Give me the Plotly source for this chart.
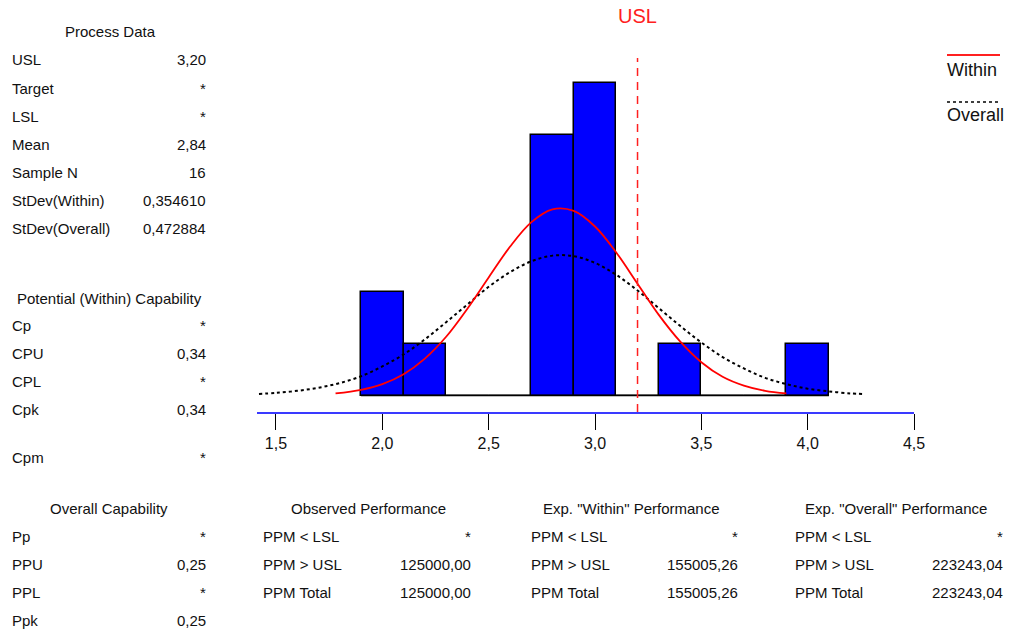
import plotly.graph_objects as go

# ---------------- data ----------------
bin_centers = [2.0, 2.2, 2.4, 2.6, 2.8, 3.0, 3.2, 3.4, 3.6, 3.8, 4.0]
bin_counts = [2, 1, 0, 0, 5, 6, 0, 1, 0, 0, 1]
bin_width = 0.2

usl = 3.2

within_x = [1.78, 1.9, 2.0, 2.1, 2.2, 2.3, 2.4, 2.5, 2.6, 2.7, 2.8, 2.9, 3.0,
            3.1, 3.2, 3.3, 3.4, 3.5, 3.6, 3.7, 3.8, 3.9]
within_y = [0.04, 0.11, 0.22, 0.41, 0.71, 1.13, 1.67, 2.27, 2.86, 3.33, 3.58,
            3.55, 3.25, 2.75, 2.15, 1.55, 1.04, 0.64, 0.36, 0.19, 0.09, 0.04]

overall_x = [1.42, 1.5, 1.6, 1.7, 1.8, 1.9, 2.0, 2.1, 2.2, 2.3, 2.4, 2.5, 2.6,
             2.7, 2.8, 2.9, 3.0, 3.1, 3.2, 3.3, 3.4, 3.5, 3.6, 3.7, 3.8, 3.9,
             4.0, 4.1, 4.2, 4.26]
overall_y = [0.03, 0.05, 0.09, 0.15, 0.24, 0.37, 0.56, 0.79, 1.08, 1.41, 1.75,
             2.09, 2.37, 2.58, 2.69, 2.68, 2.55, 2.32, 2.02, 1.68, 1.34, 1.02,
             0.74, 0.52, 0.34, 0.22, 0.13, 0.08, 0.04, 0.03]

tick_vals = [1.5, 2.0, 2.5, 3.0, 3.5, 4.0, 4.5]

process_title = "Process Data"
process_labels = ["USL", "Target", "LSL", "Mean", "Sample N", "StDev(Within)", "StDev(Overall)"]
process_values = ["3,20", "*", "*", "2,84", "16", "0,354610", "0,472884"]

potential_title = "Potential (Within) Capability"
potential_labels = ["Cp", "CPU", "CPL", "Cpk", "Cpm"]
potential_values = ["*", "0,34", "*", "0,34", "*"]

overall_title = "Overall Capability"
overall_labels = ["Pp", "PPU", "PPL", "Ppk"]
overall_values = ["*", "0,25", "*", "0,25"]

ppm_labels = ["PPM < LSL", "PPM > USL", "PPM Total"]
observed_title = "Observed Performance"
observed_values = ["*", "125000,00", "125000,00"]
expw_title = 'Exp. "Within" Performance'
expw_values = ["*", "155005,26", "155005,26"]
expo_title = 'Exp. "Overall" Performance'
expo_values = ["*", "223243,04", "223243,04"]

# ---------------- layout geometry (pixels) ----------------
W, H = 1010, 632
PL, PR, PT, PB = 257, 914, 58, 412


def px(x):
    return (x - PL) / (PR - PL)


def py(y):
    return (PB - y) / (PB - PT)


FONT = "Liberation Sans, Arial, sans-serif"
TXT = "#111111"

fig = go.Figure()

# baseline of histogram outline
fig.add_trace(go.Scatter(
    x=[bin_centers[0] - bin_width / 2, bin_centers[-1] + bin_width / 2],
    y=[0, 0], mode="lines", line=dict(color="black", width=1.5),
    hoverinfo="skip", showlegend=False))

fig.add_trace(go.Bar(
    x=bin_centers, y=bin_counts, width=bin_width,
    marker=dict(color="#0000ff", line=dict(color="black", width=1.5)),
    showlegend=False))

fig.add_trace(go.Scatter(
    x=overall_x, y=overall_y, mode="lines", line_shape="spline",
    line=dict(color="black", width=2, dash="3px,3px"), showlegend=False))

fig.add_trace(go.Scatter(
    x=within_x, y=within_y, mode="lines", line_shape="spline",
    line=dict(color="#ff0000", width=1.8), showlegend=False))

annotations = []
shapes = []

# USL line and label
shapes.append(dict(type="line", xref="x", yref="paper", x0=usl, x1=usl, y0=0, y1=1,
                   line=dict(color="#ff2020", width=1.5, dash="8px,6px")))
annotations.append(dict(x=usl, xref="x", y=py(16), yref="paper", text="USL",
                        showarrow=False, xanchor="center", yanchor="middle",
                        font=dict(family=FONT, size=20, color="#ff2020")))

# legend
shapes.append(dict(type="line", xref="paper", yref="paper", x0=px(947), x1=px(1000),
                   y0=py(55), y1=py(55), line=dict(color="#ff2020", width=2)))
shapes.append(dict(type="line", xref="paper", yref="paper", x0=px(947), x1=px(1000),
                   y0=py(102), y1=py(102), line=dict(color="black", width=1.5, dash="3px,3px")))
annotations.append(dict(x=px(945), y=py(70), xref="paper", yref="paper", text="Within",
                        showarrow=False, xanchor="left", yanchor="middle",
                        font=dict(family=FONT, size=18, color=TXT)))
annotations.append(dict(x=px(945), y=py(115), xref="paper", yref="paper", text="Overall",
                        showarrow=False, xanchor="left", yanchor="middle",
                        font=dict(family=FONT, size=18, color=TXT)))


def add_text(x, y, text, anchor):
    annotations.append(dict(x=px(x), y=py(y), xref="paper", yref="paper", text=text,
                            showarrow=False, xanchor=anchor, yanchor="middle",
                            font=dict(family=FONT, size=15, color=TXT)))


def add_block(title, title_x, title_y, labels, values, lab_x, val_x, ys):
    add_text(title_x, title_y, title, "center")
    for lab, val, yy in zip(labels, values, ys):
        add_text(lab_x, yy, lab, "left")
        add_text(val_x, yy, val, "right")


add_block(process_title, 110, 32, process_labels, process_values, 10, 208,
          [60, 88, 116, 144, 172, 200, 228])
add_block(potential_title, 109, 298, potential_labels, potential_values, 10, 208,
          [325, 353, 381, 409, 457])
add_block(overall_title, 109, 508, overall_labels, overall_values, 10, 208,
          [536, 564, 592, 620])
add_block(observed_title, 368, 508, ppm_labels, observed_values, 261, 473,
          [536, 564, 592])
add_block(expw_title, 631, 508, ppm_labels, expw_values, 529, 740,
          [536, 564, 592])
add_block(expo_title, 896, 508, ppm_labels, expo_values, 793, 1005,
          [536, 564, 592])

fig.update_layout(
    width=W, height=H,
    margin=dict(l=PL, r=W - PR, t=PT, b=H - PB, pad=0),
    paper_bgcolor="white", plot_bgcolor="white",
    separators=",.",
    bargap=0,
    showlegend=False,
    hovermode=False,
    annotations=annotations,
    shapes=shapes,
    xaxis=dict(range=[1.4107, 4.5], tickvals=tick_vals, tickformat=".1f",
               showgrid=False, zeroline=False, showline=True,
               linecolor="#3a3aff", linewidth=2,
               ticks="outside", ticklen=16, tickcolor="black", tickwidth=1,
               tickfont=dict(family=FONT, size=16, color=TXT)),
    yaxis=dict(range=[-0.317, 6.49], visible=False, showgrid=False, zeroline=False),
)

fig.write_html("out.html",
               config={"displayModeBar": False},
               post_script="document.body.style.margin='0';document.body.style.padding='0';")
